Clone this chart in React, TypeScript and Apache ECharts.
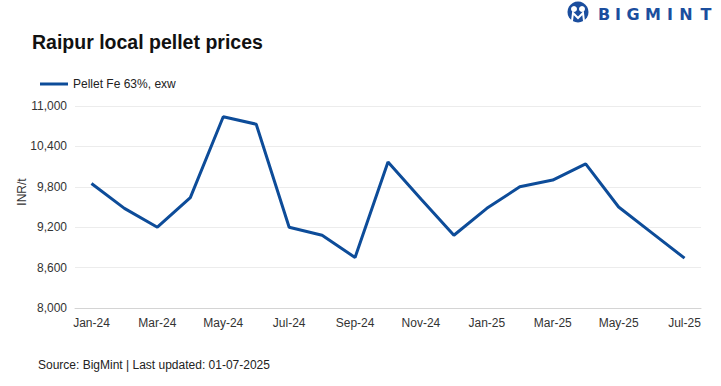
import React, { useEffect, useRef } from "react";
import * as echarts from "echarts";

const months = [
  "Jan-24", "Feb-24", "Mar-24", "Apr-24", "May-24", "Jun-24", "Jul-24", "Aug-24", "Sep-24",
  "Oct-24", "Nov-24", "Dec-24", "Jan-25", "Feb-25", "Mar-25", "Apr-25", "May-25", "Jun-25", "Jul-25",
];
const pelletPrices = [
  9850, 9480, 9200, 9640, 10840, 10730, 9200, 9080, 8750,
  10170, 9620, 9080, 9480, 9800, 9900, 10140, 9500, 9120, 8740,
];
const seriesName = "Pellet Fe 63%, exw";
const titleText = "Raipur local pellet prices";
const yAxisName = "INR/t";
const footerText = "Source: BigMint | Last updated: 01-07-2025";
const logoLetters = ["B", "I", "G", "M", "I", "N", "T"];
const logoLetterX = [604, 618, 633, 653, 670, 686, 706];

const FONT = "'Liberation Sans', Arial, sans-serif";
const BLUE = "#0d4c99";
const LOGO_BLUE = "#1b4e9e";

export default function App() {
  const ref = useRef<HTMLDivElement>(null);
  useEffect(() => {
    document.body.style.margin = "0";
    const chart = echarts.init(ref.current!, undefined, { renderer: "svg" });
    const letters = logoLetters.map((ch, i) => ({
      type: "text",
      x: logoLetterX[i],
      y: 14,
      style: {
        text: ch,
        font: `900 16px 'DejaVu Sans', ${FONT}`,
        fill: LOGO_BLUE,
        textAlign: "center",
        textVerticalAlign: "middle",
      },
    }));
    chart.setOption({
      animation: false,
      backgroundColor: "#ffffff",
      textStyle: { fontFamily: FONT },
      grid: { left: 75, right: 20, top: 106, bottom: 78 },
      legend: {
        left: 35,
        top: 73,
        icon: "rect",
        itemWidth: 28,
        itemHeight: 3,
        textStyle: { fontSize: 12, color: "#222", fontFamily: FONT },
        data: [seriesName],
      },
      xAxis: {
        type: "category",
        data: months,
        boundaryGap: true,
        axisTick: { show: false },
        axisLine: { lineStyle: { color: "#d4d4d4", width: 1 } },
        axisLabel: { interval: 1, color: "#333", fontSize: 12, margin: 9, fontFamily: FONT },
      },
      yAxis: {
        type: "value",
        min: 8000,
        max: 11000,
        interval: 600,
        axisLabel: {
          color: "#333",
          fontSize: 12,
          margin: 8,
          fontFamily: FONT,
          formatter: (v: number) => v.toLocaleString("en-US"),
        },
        splitLine: { lineStyle: { color: "#ececec", width: 1 } },
        axisLine: { show: false },
        axisTick: { show: false },
      },
      series: [
        {
          name: seriesName,
          type: "line",
          data: pelletPrices,
          showSymbol: false,
          symbol: "none",
          lineStyle: { color: BLUE, width: 3 },
          itemStyle: { color: BLUE },
        },
      ],
      graphic: [
        {
          type: "text",
          x: 32,
          y: 42,
          style: {
            text: titleText,
            font: `bold 19.5px ${FONT}`,
            fill: "#111",
            textVerticalAlign: "middle",
          },
        },
        {
          type: "text",
          x: 22,
          y: 192,
          rotation: Math.PI / 2,
          style: {
            text: yAxisName,
            font: `12px ${FONT}`,
            fill: "#333",
            textAlign: "center",
            textVerticalAlign: "middle",
          },
        },
        {
          type: "text",
          x: 38,
          y: 365,
          style: {
            text: footerText,
            font: `12px ${FONT}`,
            fill: "#222",
            textVerticalAlign: "middle",
          },
        },
        {
          type: "group",
          children: [
            { type: "circle", shape: { cx: 578, cy: 12, r: 10.5 }, style: { fill: LOGO_BLUE } },
            { type: "circle", shape: { cx: 574, cy: 9, r: 3 }, style: { fill: "#fff" } },
            { type: "circle", shape: { cx: 582, cy: 9, r: 3 }, style: { fill: "#fff" } },
            {
              type: "polyline",
              shape: { points: [[572, 21], [573, 13], [578, 18], [583, 13], [584, 21]] },
              style: { stroke: "#fff", lineWidth: 2, fill: "none" },
            },
            ...letters,
          ],
        },
      ],
    });
    return () => chart.dispose();
  }, []);
  return <div ref={ref} style={{ width: 721, height: 386 }} />;
}
